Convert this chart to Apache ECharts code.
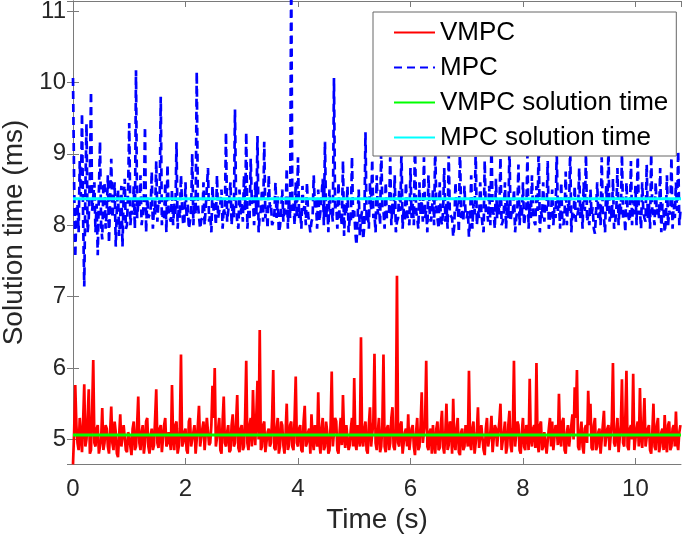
<!DOCTYPE html>
<html>
<head>
<meta charset="utf-8">
<script src="https://cdn.jsdelivr.net/npm/echarts@6/dist/echarts.min.js"></script>
<style>
html,body{margin:0;padding:0;background:#fff;}
#chart{width:685px;height:545px;}
</style>
</head>
<body>
<div id="chart"></div>
<script>
// sample period of the recorded solution times (s)
const sampleStep = 0.02;

// VMPC solution time per sample (ms), one row per second
const vmpcValues = [
 4.65,5.1,5.76,5.2,4.95,4.85,5.3,5.05,4.82,5.25,5.77,4.9,5.0,5.3,5.7,4.8,4.85,5.4,6.11,4.95,4.9,5.15,5.2,4.8,4.78,5.0,5.44,4.85,4.95,5.2,5.15,4.9,4.8,5.1,5.46,4.95,4.85,5.25,5.1,4.8,4.75,5.05,5.35,4.9,4.9,5.2,5.2,4.85,4.82,5.1,
 5.05,4.9,4.78,5.15,5.25,4.85,4.9,5.2,5.6,4.95,4.85,5.1,5.2,4.8,4.95,5.25,5.3,4.9,4.8,5.05,5.15,4.85,4.92,5.3,5.7,4.95,4.88,5.15,5.2,4.82,4.8,5.2,5.3,4.9,4.95,5.1,5.12,4.85,5.76,5.0,4.85,5.2,5.25,4.8,4.9,5.15,6.19,4.9,4.95,5.1,
 5.15,4.85,4.8,5.25,5.3,4.9,4.9,5.1,5.2,4.8,4.78,5.2,5.47,4.9,4.92,5.15,5.25,4.85,4.85,5.3,5.1,4.92,4.95,5.2,5.75,5.3,6.0,4.9,4.88,5.15,5.3,4.85,4.8,5.25,5.6,4.95,4.9,5.1,5.2,4.82,4.85,5.2,5.35,4.9,4.95,5.25,5.62,4.88,4.82,5.15,
 5.2,4.85,4.9,5.3,6.1,4.95,4.85,5.2,5.3,4.9,5.69,5.1,4.92,5.35,5.82,5.0,6.53,4.85,4.9,5.2,5.25,4.82,4.8,5.1,5.15,4.9,4.95,5.3,5.97,4.88,4.85,5.15,5.3,4.8,4.9,5.25,5.2,4.92,4.8,5.1,5.5,4.85,4.92,5.2,5.25,4.9,4.85,5.3,5.88,4.95,
 4.9,5.15,5.2,4.85,4.82,5.25,5.47,4.9,4.95,5.1,5.15,4.8,5.35,5.0,4.85,5.2,5.2,4.9,5.66,4.95,4.8,5.15,5.3,4.85,4.9,5.25,5.1,4.8,4.85,5.2,5.95,4.9,4.9,5.3,5.25,4.85,4.8,5.1,5.3,4.92,5.62,5.05,4.88,5.2,5.2,4.85,4.92,5.15,5.3,4.9,
 5.86,4.95,4.85,5.2,5.2,4.9,6.43,5.0,4.9,5.15,5.25,4.85,4.8,5.2,5.45,4.9,4.92,5.25,6.2,4.95,4.85,5.1,5.3,4.82,4.9,5.2,6.19,4.9,4.82,5.15,5.2,4.85,4.95,5.3,5.45,4.9,4.85,5.1,7.29,4.95,4.9,5.2,5.25,4.8,4.8,5.1,5.15,4.9,5.35,4.85,
 4.85,5.15,5.2,4.9,4.78,5.1,5.3,4.85,4.9,5.2,5.66,4.95,4.95,5.25,6.1,4.9,4.85,5.1,5.15,4.8,5.2,4.95,4.8,5.15,5.25,4.85,4.88,5.2,5.4,4.9,4.8,5.1,5.5,4.85,4.92,5.25,5.2,4.8,5.57,4.95,4.85,5.15,5.3,4.82,4.78,5.1,5.15,4.85,4.9,5.2,
 5.2,4.9,5.96,4.95,4.85,5.15,5.25,4.8,4.8,5.1,5.45,4.88,4.9,5.2,5.2,4.85,4.78,5.15,5.3,4.9,4.92,5.1,5.33,4.82,4.8,5.2,5.15,4.9,4.88,5.25,5.5,4.85,4.85,5.1,5.25,4.8,4.9,5.2,5.4,4.92,4.82,5.15,6.1,4.9,4.9,5.25,5.2,4.85,4.8,5.1,
 5.3,4.9,4.85,5.2,5.15,4.85,5.85,5.0,4.9,5.15,5.2,4.88,6.07,4.95,4.82,5.2,5.25,4.85,4.9,5.1,5.1,4.8,4.78,5.15,5.3,4.9,5.25,4.85,4.85,5.2,5.15,4.92,5.64,5.0,4.9,5.25,5.3,4.85,4.8,5.1,5.2,4.9,4.9,5.2,5.35,5.0,5.73,5.3,5.97,4.9,
 4.85,5.1,5.25,4.9,4.8,5.15,5.2,4.95,5.68,5.2,5.5,4.88,4.85,5.2,5.3,4.85,4.9,5.1,5.15,4.8,4.78,5.2,5.4,4.9,4.9,5.15,5.2,4.85,4.85,5.25,6.07,4.95,4.9,5.1,5.3,4.82,4.82,5.2,5.84,4.95,4.9,5.3,5.96,4.9,4.85,5.15,5.2,5.0,5.92,4.85,
 4.85,5.15,5.25,4.9,5.72,5.05,4.88,5.2,5.58,4.9,4.9,5.15,5.2,4.85,4.8,5.1,5.5,4.9,4.85,5.2,5.3,4.82,4.9,5.1,5.15,4.85,5.34,4.95,4.82,5.2,5.25,4.85,4.9,5.15,5.2,4.9,5.39,4.95,4.85,5.1,5.2
];

// MPC solution time per sample (ms), one row per second
const mpcValues = [
 10.06,8.6,7.55,8.2,8.3,7.9,8.9,8.4,9.57,8.1,7.14,8.5,9.42,7.9,8.1,8.7,9.87,8.2,8.4,8.6,7.9,8.3,7.58,8.45,9.17,8.0,7.8,8.55,8.6,7.95,8.2,8.7,7.75,8.35,8.93,8.1,8.3,8.6,7.7,8.25,8.5,7.85,8.1,8.55,7.7,8.4,8.65,7.95,8.0,8.5,
 9.43,8.0,8.2,8.15,8.55,7.95,10.17,8.1,8.3,8.25,8.7,8.0,8.15,8.3,9.38,7.9,8.4,8.1,8.1,8.2,8.75,7.95,8.25,8.15,8.9,8.05,8.35,8.3,9.8,8.0,8.2,8.1,8.6,7.9,8.85,8.2,8.1,8.05,8.5,8.0,8.3,8.15,9.16,7.95,8.25,8.1,8.7,8.25,8.0,8.05,
 8.6,8.1,8.3,7.95,8.05,8.2,9.0,8.0,8.4,8.15,10.15,8.3,8.3,7.95,8.07,8.1,8.6,8.0,8.25,8.25,8.8,8.05,8.15,7.9,8.55,8.2,8.3,8.0,8.7,8.1,8.1,8.3,8.5,7.95,8.25,8.15,9.3,8.05,8.2,8.2,8.6,8.0,8.3,8.1,9.62,8.25,8.05,7.95,8.5,8.15,
 8.3,8.05,8.7,8.2,9.3,7.95,8.2,8.1,8.93,8.3,8.35,8.0,8.6,8.15,9.25,7.9,8.15,8.2,8.5,8.05,9.17,8.1,8.25,7.95,8.7,8.25,8.3,8.0,8.05,8.15,8.6,8.1,8.4,7.9,7.98,8.2,8.5,8.05,8.25,8.15,8.8,7.95,8.4,8.1,11.6,8.2,8.3,8.0,8.6,8.1,
 8.95,8.1,8.2,7.95,8.55,8.2,8.3,8.0,8.6,8.15,8.15,7.9,8.05,8.1,8.7,8.25,8.35,7.95,8.5,8.05,8.2,8.2,8.65,8.0,9.17,8.1,8.3,7.9,8.5,8.15,8.2,8.05,10.06,8.2,8.3,7.95,8.6,8.1,8.15,8.0,8.9,7.85,8.3,8.15,8.55,7.9,8.1,8.05,8.96,8.1,
 8.2,7.9,7.72,8.1,8.5,7.85,8.1,8.2,7.8,8.0,9.3,8.05,8.2,7.95,8.6,8.2,8.92,8.1,8.15,7.9,8.7,8.15,8.3,8.0,9.1,8.25,8.2,7.95,8.6,8.1,8.1,8.2,8.95,8.0,8.3,8.15,8.7,7.9,8.05,8.1,8.5,8.2,9.05,7.95,8.25,8.05,8.6,8.15,8.15,8.0,
 8.8,8.1,8.3,8.0,9.2,8.2,8.1,7.95,8.6,8.15,8.35,8.05,8.95,8.1,8.2,7.9,8.7,8.2,8.05,8.15,8.5,8.0,9.1,8.25,8.25,7.95,8.6,8.1,8.0,8.2,8.8,8.05,8.3,7.95,9.0,8.15,8.15,8.1,7.84,8.0,8.6,8.2,8.3,7.9,9.15,8.1,8.2,8.05,8.55,8.15,
 8.1,8.2,7.84,8.05,8.7,7.95,8.3,8.15,9.05,8.0,8.2,8.1,8.6,8.2,8.0,7.9,8.9,8.15,8.25,8.05,8.55,8.0,9.2,8.2,8.15,7.95,8.65,8.1,8.3,8.15,8.95,8.0,8.05,8.2,8.6,7.95,8.35,8.1,9.1,8.05,8.2,8.15,8.5,7.9,8.1,8.2,8.85,8.0,8.3,8.1,
 8.6,8.0,8.15,8.2,9.0,7.95,8.3,8.1,8.7,8.15,8.05,8.0,8.55,8.2,9.15,7.9,8.2,8.1,8.6,8.05,8.3,8.2,8.9,7.95,8.1,8.15,8.5,8.0,8.25,8.1,9.05,8.2,8.35,7.95,8.6,8.05,8.0,8.15,8.75,8.0,8.3,8.2,9.1,7.9,8.2,8.1,8.55,8.05,8.1,8.2,
 8.8,8.1,8.3,7.95,8.6,8.2,9.0,8.05,8.15,8.0,8.5,8.15,8.25,7.95,7.88,8.2,8.6,8.1,8.3,8.0,8.95,8.15,8.1,7.9,8.55,8.2,9.1,8.05,8.2,8.1,8.65,7.95,8.05,8.2,8.8,8.0,8.3,8.15,9.0,8.1,8.2,7.9,8.6,8.2,8.1,8.05,8.9,8.0,8.35,8.15,
 8.55,8.0,9.05,8.15,8.2,7.95,8.6,8.2,8.1,8.05,8.85,8.1,8.3,7.95,9.0,8.2,8.15,8.0,8.6,8.15,8.25,8.1,8.8,7.9,8.3,8.2,7.9,8.05,8.7,8.0,8.2,8.15,8.95,7.95,8.3,8.1,8.6,8.2,9.04,8.0,8.2
];

// average solution times (ms)
const vmpcMean = 5.06;
const mpcMean = 8.37;

// axis ranges and labels
const xRange = [0, 10.81];
const yRange = [4.655, 11.14];
const xTickStep = 2;
const seriesNames = ['VMPC', 'MPC', 'VMPC solution time', 'MPC solution time'];
const xTitle = 'Time (s)';
const yTitle = 'Solution time (ms)';

const FONT = '"Liberation Sans", Arial, Helvetica, sans-serif';
const AXIS_COLOR = '#7a7a7a';
const TEXT_COLOR = '#262626';

const toPairs = vals => vals.map((v, i) => [+(i * sampleStep).toFixed(2), v]);
const flat = v => [[xRange[0], v], [xRange[1], v]];

const chart = echarts.init(document.getElementById('chart'), null, {renderer: 'canvas'});

const xCommon = {
  type: 'value', min: xRange[0], max: xRange[1], interval: xTickStep,
  axisLine: {show: true, lineStyle: {color: AXIS_COLOR, width: 1}},
  axisTick: {show: true, inside: true, length: 6, lineStyle: {color: AXIS_COLOR}},
  splitLine: {show: false}
};
const yCommon = {
  type: 'value', min: yRange[0], max: yRange[1], minInterval: 1, maxInterval: 1, splitNumber: 6,
  axisLine: {show: true, lineStyle: {color: AXIS_COLOR, width: 1}},
  axisTick: {show: true, inside: true, length: 6, lineStyle: {color: AXIS_COLOR}},
  splitLine: {show: false}
};
const intLabel = v => (Math.abs(v - Math.round(v)) < 1e-6 ? String(Math.round(v)) : '');

chart.setOption({
  animation: false,
  backgroundColor: '#fff',
  textStyle: {fontFamily: FONT},
  grid: {left: 73, right: 4, top: 1, bottom: 81, containLabel: false, outerBoundsMode: 'none'},
  xAxis: [
    Object.assign({}, xCommon, {
      position: 'bottom',
      name: xTitle, nameLocation: 'middle', nameGap: 40,
      nameTextStyle: {fontSize: 28, color: TEXT_COLOR, fontFamily: FONT},
      axisLabel: {show: true, fontSize: 24, color: TEXT_COLOR, margin: 13, fontFamily: FONT,
                  showMaxLabel: false, hideOverlap: false, formatter: intLabel}
    }),
    Object.assign({}, xCommon, {position: 'top', axisLabel: {show: false}})
  ],
  yAxis: [
    Object.assign({}, yCommon, {
      position: 'left',
      name: yTitle, nameLocation: 'middle', nameGap: 44,
      nameTextStyle: {fontSize: 28, color: TEXT_COLOR, fontFamily: FONT},
      axisLabel: {show: true, fontSize: 24, color: TEXT_COLOR, margin: 7, fontFamily: FONT,
                  showMinLabel: false, showMaxLabel: false, hideOverlap: false, formatter: intLabel}
    }),
    Object.assign({}, yCommon, {position: 'right', axisLabel: {show: false}})
  ],
  legend: {
    orient: 'vertical', left: 373, top: 12,
    padding: [5, 8, 3, 20], itemGap: 4, itemWidth: 41, itemHeight: 14,
    backgroundColor: '#fff', borderColor: '#666', borderWidth: 1,
    itemStyle: {opacity: 0, borderWidth: 0},
    textStyle: {fontSize: 26, color: '#000', lineHeight: 31, fontFamily: FONT},
    data: seriesNames
  },
  series: [
    {name: seriesNames[0], type: 'line', data: toPairs(vmpcValues), symbol: 'none', showSymbol: false,
     lineStyle: {color: '#ff0000', width: 2.7}, itemStyle: {color: '#ff0000'}, clip: true, z: 2},
    {name: seriesNames[1], type: 'line', data: toPairs(mpcValues), symbol: 'none', showSymbol: false,
     lineStyle: {color: '#0000ff', width: 2.7, type: [8, 5]}, itemStyle: {color: '#0000ff'}, clip: true, z: 2},
    {name: seriesNames[2], type: 'line', data: flat(vmpcMean), symbol: 'none', showSymbol: false,
     lineStyle: {color: '#00ff00', width: 3}, itemStyle: {color: '#00ff00'}, z: 3},
    {name: seriesNames[3], type: 'line', data: flat(mpcMean), symbol: 'none', showSymbol: false,
     lineStyle: {color: '#00ffff', width: 3}, itemStyle: {color: '#00ffff'}, z: 3}
  ]
});
</script>
</body>
</html>
